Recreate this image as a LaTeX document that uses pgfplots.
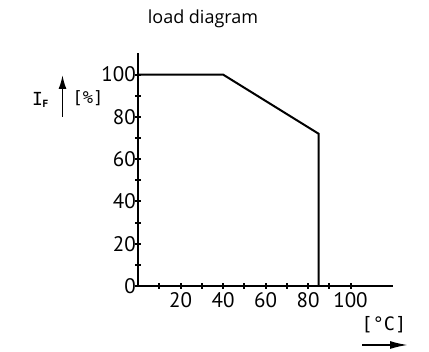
\documentclass[border=0pt]{standalone}
\usepackage{pgfplots}
\pgfplotsset{compat=1.18}
\usetikzlibrary{arrows.meta}
\usepackage{fontspec}
\setmainfont{PT Sans}
\newfontfamily\titlefont{Open Sans}
\newfontfamily\monofont{DejaVu Sans Mono}
\begin{document}
\begin{tikzpicture}[x=1pt,y=1pt]
\path[use as bounding box] (0,0) rectangle (429,352);
\begin{axis}[
  at={(138pt,66pt)}, anchor=south west,
  scale only axis, width=255pt, height=232.6pt,
  xmin=0, xmax=120, ymin=0, ymax=110,
  axis lines*=left,
  axis line style={line width=2pt, black},
  xtick={20,40,60,80,100}, minor xtick={10,30,50,70,90},
  ytick={0,20,40,60,80,100}, minor ytick={10,30,50,70,90},
  tick align=center,
  major tick length=5.5pt, minor tick length=5.5pt,
  every tick/.style={line width=2pt, black},
  minor tick style={line width=2pt, black},
  /pgf/number format/assume math mode=true,
  ticklabel style={font=\fontsize{21}{21}\selectfont},
  yticklabel style={xshift=4pt},
  xticklabel style={yshift=0pt},
  clip=false,
]
\addplot[line width=2pt, black] coordinates {(0,100) (40,100) (85,72) (85,0)};
\end{axis}
\node[font=\titlefont\fontsize{18}{18}\selectfont] at (203,333) {load diagram};
\node[font=\monofont\fontsize{18}{18}\selectfont, inner sep=0pt] at (37.5,253) {I};
\node[font=\monofont\bfseries\fontsize{10}{10}\selectfont, inner sep=0pt] at (45.5,248) {F};
\draw[line width=1.8pt, -{Latex[length=14pt,width=8pt]}] (62.5,235) -- (62.5,277);
\node[font=\monofont\fontsize{17}{17}\selectfont, inner sep=0pt] at (88,254) {[\%]};
\node[font=\monofont\fontsize{18.5}{18.5}\selectfont, inner sep=0pt] at (384,27) {[°C]};
\draw[line width=1.8pt, -{Latex[length=18pt,width=8pt]}] (362,7) -- (408,7);
\end{tikzpicture}
\end{document}
